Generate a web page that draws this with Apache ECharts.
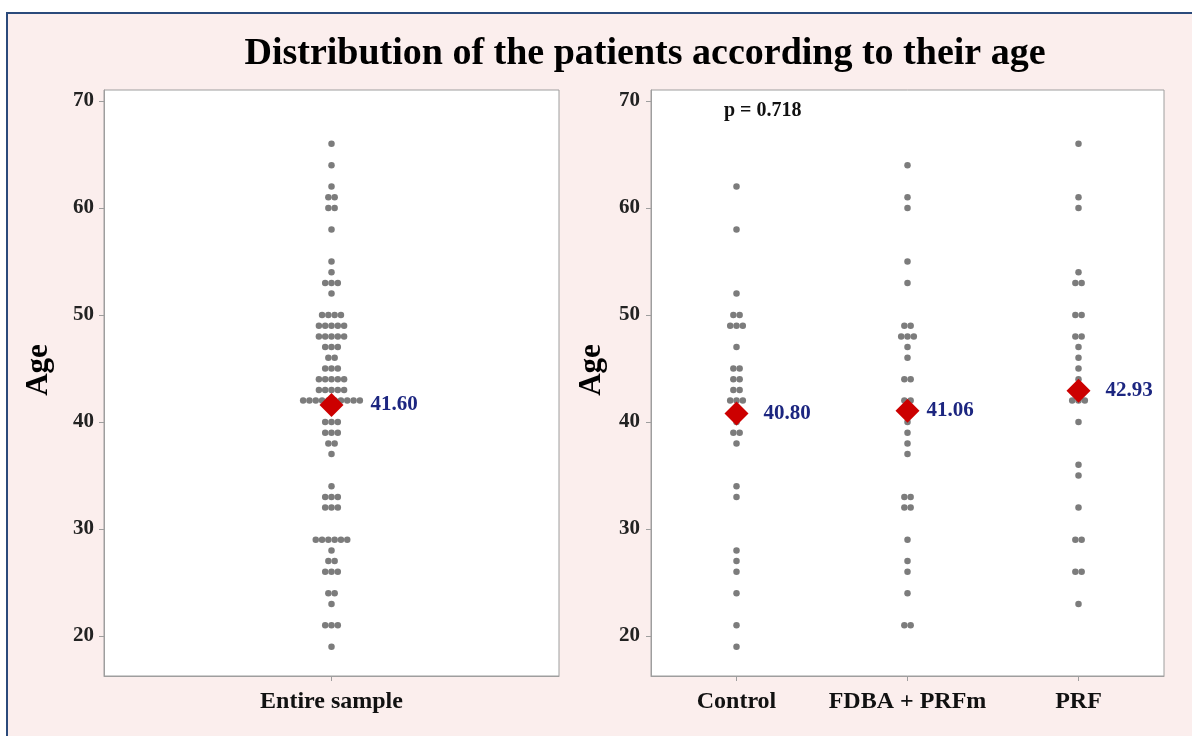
<!DOCTYPE html>
<html>
<head>
<meta charset="utf-8">
<script src="https://cdn.jsdelivr.net/npm/echarts@6/dist/echarts.min.js"></script>
<style>
html,body{margin:0;padding:0;background:#ffffff;}
#chart{width:1192px;height:736px;}
</style>
</head>
<body>
<div id="chart"></div>
<script>
// ---- data ----
const titleText = 'Distribution of the patients according to their age';
const yAxisName = 'Age';
const yTickValues = [20, 30, 40, 50, 60, 70];
const leftCategories = ['Entire sample'];
const rightCategories = ['Control', 'FDBA + PRFm', 'PRF'];
const pValueText = 'p = 0.718';

const entireAges = [66,64,62,61,61,60,60,58,55,54,53,53,53,52,
  50,50,50,50,49,49,49,49,49,48,48,48,48,48,47,47,47,46,46,45,45,45,
  44,44,44,44,44,43,43,43,43,43,42,42,42,42,42,42,42,42,42,42,
  40,40,40,39,39,39,38,38,37,34,33,33,33,32,32,32,
  29,29,29,29,29,29,28,27,27,26,26,26,24,24,23,21,21,21,19];
const controlAges = [62,58,52,50,50,49,49,49,47,45,45,44,44,43,43,42,42,42,40,39,39,38,34,33,28,27,26,24,21,19];
const fdbaAges = [64,61,60,55,53,49,49,48,48,48,47,46,44,44,42,42,40,39,38,37,33,33,32,32,29,27,26,24,21,21];
const prfAges = [66,61,60,54,53,53,50,50,48,48,47,46,45,44,43,42,42,42,40,36,35,32,29,29,26,26,23];

const entireMean = [41.60];
const groupMeans = [40.80, 41.06, 42.93];

// ---- styling ----
const SERIF = '"Liberation Serif", "DejaVu Serif", serif';
const DOT_STEP = 6.3;
const DOT_COLOR = '#7c7c7c';

function dotData(ages, catIndex) {
  const counts = {};
  ages.forEach(a => { counts[a] = (counts[a] || 0) + 1; });
  const seen = {};
  return ages.map(a => {
    const n = counts[a];
    const i = seen[a] || 0;
    seen[a] = i + 1;
    return { value: [catIndex, a], symbolOffset: [(i - (n - 1) / 2) * DOT_STEP, 0] };
  });
}

const chart = echarts.init(document.getElementById('chart'));

function yAxisCfg(gridIndex, nameGap, labelMargin) {
  return {
    type: 'value', gridIndex: gridIndex, min: 16.26, max: 71.03,
    name: yAxisName, nameLocation: 'middle', nameRotate: 90, nameGap: nameGap,
    nameTextStyle: { fontFamily: SERIF, fontWeight: 'bold', fontSize: 31, color: '#000', padding: [0, 0, 0, 26] },
    axisLine: { show: true, lineStyle: { color: '#9e9e9e', width: 1 } },
    axisTick: { show: true, customValues: yTickValues, length: 5, lineStyle: { color: '#9e9e9e' } },
    axisLabel: { customValues: yTickValues, margin: labelMargin, fontFamily: SERIF, fontWeight: 'bold', fontSize: 21, color: '#222' },
    splitLine: { show: false }
  };
}
function xAxisCfg(gridIndex, cats) {
  return {
    type: 'category', gridIndex: gridIndex, data: cats,
    axisLine: { show: true, lineStyle: { color: '#9e9e9e' } },
    axisTick: { show: true, alignWithLabel: true, length: 5, lineStyle: { color: '#9e9e9e' } },
    axisLabel: { interval: 0, hideOverlap: false, margin: 14, fontFamily: SERIF, fontWeight: 'bold', fontSize: 24, color: '#111' },
    splitLine: { show: false }
  };
}

const dotSeries = (data, xi) => ({
  type: 'scatter', xAxisIndex: xi, yAxisIndex: xi, data: data,
  symbol: 'circle', symbolSize: 6.5, itemStyle: { color: DOT_COLOR, opacity: 1 }, z: 2, silent: true
});

const meanLabel = {
  show: true, position: 'right', fontFamily: SERIF, fontWeight: 'bold', fontSize: 21, color: '#1c2680',
  formatter: p => p.value[1].toFixed(2)
};
const labelDistances = [15, 7, 15];

const option = {
  backgroundColor: '#ffffff',
  animation: false,
  graphic: [
    { type: 'rect', z: -10, shape: { x: 7, y: 13, width: 1200, height: 740 },
      style: { fill: '#fbeeed', stroke: '#2b4a7b', lineWidth: 2 } },
    { type: 'text', left: 724, top: 101, z: 10,
      style: { text: pValueText, font: 'bold 20px ' + SERIF, fill: '#111' } }
  ],
  title: {
    text: titleText, left: 640, textAlign: 'center', top: 30,
    textStyle: { fontFamily: SERIF, fontWeight: 'bold', fontSize: 38, color: '#000' }
  },
  grid: [
    { left: 104, top: 90, width: 455, height: 586, show: true, backgroundColor: '#ffffff', borderColor: '#9e9e9e', borderWidth: 1 },
    { left: 651, top: 90, width: 513, height: 586, show: true, backgroundColor: '#ffffff', borderColor: '#9e9e9e', borderWidth: 1 }
  ],
  xAxis: [xAxisCfg(0, leftCategories), xAxisCfg(1, rightCategories)],
  yAxis: [yAxisCfg(0, 50, 10), yAxisCfg(1, 44, 11)],
  series: [
    dotSeries(dotData(entireAges, 0), 0),
    dotSeries(dotData(controlAges, 0), 1),
    dotSeries(dotData(fdbaAges, 1), 1),
    dotSeries(dotData(prfAges, 2), 1),
    { type: 'scatter', xAxisIndex: 0, yAxisIndex: 0, z: 5, symbol: 'diamond', symbolSize: [24, 24],
      itemStyle: { color: '#cc0000', opacity: 1 },
      label: Object.assign({}, meanLabel, { distance: 27 }),
      data: entireMean.map(m => [0, m]) },
    { type: 'scatter', xAxisIndex: 1, yAxisIndex: 1, z: 5, symbol: 'diamond', symbolSize: [24, 24],
      itemStyle: { color: '#cc0000', opacity: 1 },
      label: meanLabel,
      data: groupMeans.map((m, i) => ({ value: [i, m], label: { distance: labelDistances[i] } })) }
  ]
};
chart.setOption(option);
</script>
</body>
</html>
